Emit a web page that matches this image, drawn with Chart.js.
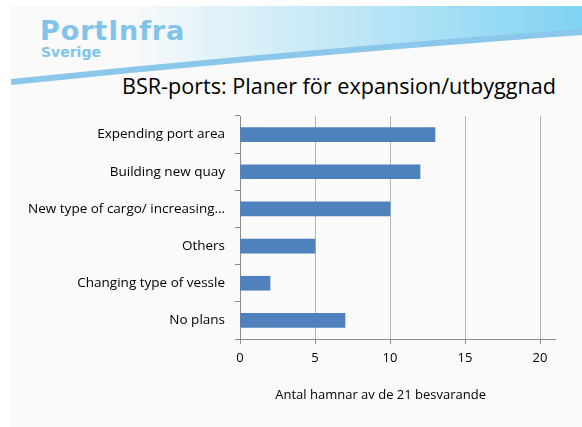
<!DOCTYPE html>
<html>
<head>
<meta charset="utf-8">
<script src="https://cdn.jsdelivr.net/npm/chart.js@4/dist/chart.umd.min.js"></script>
<style>
  html, body { margin: 0; padding: 0; background: #fff; }
  #slide { position: absolute; left: 11px; top: 6px; width: 571px; height: 421px; background: #fafafa; overflow: hidden; }
  #deco { position: absolute; left: 0; top: 0; }
  .logo { position: absolute; font-family: "DejaVu Sans", sans-serif; font-weight: bold; color: #80c4ea; white-space: nowrap; }
  #logo1 { left: 29px; top: 11px; font-size: 27px; line-height: 27px; letter-spacing: 0.9px; }
  #logo2 { left: 30px; top: 39px; font-size: 14px; line-height: 14px; }
  #title { position: absolute; left: 111px; top: 69px; font-family: "Open Sans", sans-serif; font-size: 21.6px; line-height: 22px; color: #000; white-space: nowrap; }
  #chart { position: absolute; left: 11px; top: 106px; }
</style>
</head>
<body>
<div id="slide">
  <svg id="deco" width="571" height="421">
    <defs>
      <linearGradient id="sky" x1="0" y1="0" x2="1" y2="0">
        <stop offset="0.2" stop-color="#fafafa"/>
        <stop offset="0.55" stop-color="#c6e9f7"/>
        <stop offset="1" stop-color="#7fd3f2"/>
      </linearGradient>
    </defs>
    <path d="M0 0 L571 0 L571 26 Q289 46 0 76 Z" fill="url(#sky)"/>
    <path d="M0 76 Q289 46 571 26" fill="none" stroke="#8bc7ea" stroke-width="6"/>
  </svg>
  <div class="logo" id="logo1">PortInfra</div>
  <div class="logo" id="logo2">Sverige</div>
  <div id="title">BSR-ports: Planer för expansion/utbyggnad</div>
</div>
<canvas id="chart" width="571" height="310"></canvas>
<script>
var categories = ['Expending port area', 'Building new quay', 'New type of cargo/ increasing\u2026', 'Others', 'Changing type of vessle', 'No plans'];
var values = [13, 12, 10, 5, 2, 7];
var xTicks = [0, 5, 10, 15, 20];
var xTitle = 'Antal hamnar av de 21 besvarande';

var FONT = '"Open Sans", sans-serif';

new Chart(document.getElementById('chart'), {
  type: 'bar',
  data: {
    labels: categories,
    datasets: [{
      data: values,
      backgroundColor: '#4f81bd',
      borderWidth: 0,
      barThickness: 14
    }]
  },
  options: {
    indexAxis: 'y',
    responsive: false,
    animation: false,
    devicePixelRatio: 1,
    layout: { padding: { top: 10, right: 27, left: 0, bottom: 0 } },
    plugins: { legend: { display: false }, tooltip: { enabled: false } },
    scales: {
      x: {
        min: xTicks[0],
        max: 21,
        afterFit: function (s) { s.height = 77; s.paddingLeft = 0; s.paddingRight = 0; },
        ticks: { stepSize: 5, includeBounds: false, padding: 6, color: '#000', font: { family: FONT, size: 13 } },
        grid: { color: '#b5b5b5', tickColor: '#8c8c8c', tickLength: 5 },
        border: { color: '#8c8c8c' },
        title: {
          display: true,
          text: xTitle + '\u00a0\u00a0\u00a0\u00a0\u00a0\u00a0\u00a0\u00a0\u00a0\u00a0',
          color: '#000',
          font: { family: FONT, size: 13 },
          padding: { top: 0, bottom: 13 }
        }
      },
      y: {
        afterFit: function (s) { s.width = 229; s.paddingTop = 0; s.paddingBottom = 0; },
        ticks: { padding: 10, color: '#000', font: { family: FONT, size: 13.5 } },
        grid: { drawOnChartArea: false, tickColor: '#8c8c8c', tickLength: 5 },
        border: { color: '#8c8c8c' }
      }
    }
  }
});
</script>
</body>
</html>
